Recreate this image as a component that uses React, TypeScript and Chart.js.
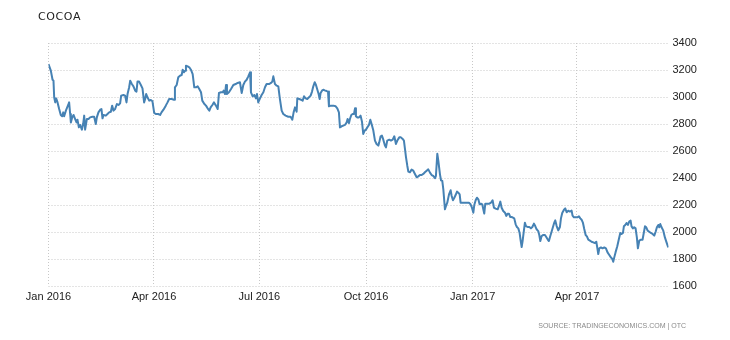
import { useEffect, useRef } from "react";
import { Chart, registerables } from "chart.js";

Chart.register(...registerables);

// Trading days, counted from 1 Jan 2016
const tradingDay = [
  0.0, 2.0, 3.5, 4.3, 4.9, 5.8, 6.6, 7.8, 9.2, 10.6, 11.8, 12.7, 13.5, 15.0, 17.0, 17.8, 18.7, 19.3, 20.4, 21.6,
  23.0, 24.2, 25.0, 26.2, 27.3, 28.8, 29.9, 30.8, 31.6, 33.1, 34.5, 35.9, 37.9, 39.4, 40.8, 41.7, 43.1, 44.6, 45.7, 46.6,
  47.5, 49.5, 50.9, 52.3, 53.8, 54.9, 56.1, 57.5, 59.0, 60.4, 61.8, 62.7, 64.7, 66.1, 67.3, 68.2, 69.6, 70.5, 71.9, 73.3,
  74.8, 75.9, 76.8, 78.2, 79.7, 81.1, 82.5, 83.4, 84.3, 85.4, 86.9, 88.3, 89.7, 91.2, 92.6, 94.6, 96.3, 97.5, 99.2, 101.2,
  102.7, 104.1, 106.3, 108.3, 109.1, 110.6, 112.0, 113.5, 114.9, 115.8, 116.9, 117.8, 118.6, 120.1, 121.5, 122.9, 124.4, 125.8, 127.3, 128.7,
  130.1, 131.6, 132.7, 134.5, 135.9, 137.3, 138.8, 139.9, 141.4, 142.8, 144.5, 146.0, 147.1, 148.8, 150.3, 151.1, 152.3, 153.2, 154.0, 155.7,
  157.5, 159.5, 161.5, 163.2, 165.2, 166.7, 168.1, 169.5, 171.0, 172.4, 173.9, 174.7, 176.2, 177.6, 179.0, 179.9, 181.0, 182.5, 183.9, 185.4,
  186.8, 188.2, 190.3, 192.0, 193.1, 194.0, 195.4, 196.9, 198.3, 199.7, 201.2, 202.6, 204.6, 206.9, 208.9, 210.4, 211.5, 212.7, 213.3, 214.1,
  214.7, 216.4, 217.9, 219.3, 220.5, 221.9, 223.3, 224.8, 226.2, 227.4, 228.5, 229.7, 230.8, 232.0, 233.1, 234.0, 234.8, 236.0, 237.1, 238.3,
  240.0, 241.2, 242.0, 243.7, 245.8, 247.8, 249.2, 250.6, 251.5, 252.9, 254.4, 255.8, 257.3, 258.1, 259.3, 260.1, 261.3, 262.4, 263.6, 264.5,
  265.3, 266.5, 267.9, 269.3, 270.5, 271.6, 272.8, 273.9, 275.1, 276.5, 277.7, 278.8, 280.3, 281.7, 283.1, 284.6, 285.4, 286.6, 287.7, 288.9,
  290.3, 291.2, 292.3, 294.1, 295.5, 297.0, 298.4, 299.8, 301.0, 302.7, 304.1, 305.6, 306.7, 307.6, 308.5, 309.6, 310.5, 311.9, 313.3, 314.8,
  316.2, 317.7, 319.1, 320.5, 322.0, 323.4, 324.8, 326.3, 327.7, 329.2, 330.6, 332.0, 333.5, 334.3, 335.5, 336.4, 337.8, 338.7, 339.8, 340.7,
  342.1, 343.0, 344.1, 345.6, 347.0, 347.9, 349.0, 350.2, 351.3, 352.5, 353.6, 354.8, 355.6, 357.1, 358.8, 360.8, 362.8, 364.2, 365.4, 366.6,
  367.4, 368.6, 369.7, 370.9, 372.0, 373.2, 374.3, 375.2, 376.0, 376.9, 378.6, 380.4, 381.8, 383.2, 384.4, 385.8, 387.6, 388.7, 389.9, 391.0,
  392.4, 393.9, 395.0, 396.2, 397.3, 398.5, 399.6, 400.8, 401.9, 403.1, 404.2, 405.4, 406.5, 407.4, 408.3, 409.1, 410.0, 411.1, 412.0, 413.4,
  414.9, 416.3, 417.5, 418.9, 420.0, 421.2, 422.6, 423.5, 424.4, 425.5, 427.0, 428.4, 429.5, 430.7, 431.8, 433.0, 434.1, 435.3, 436.4, 437.3,
  438.5, 439.9, 441.3, 442.2, 443.3, 444.8, 445.9, 447.1, 448.5, 449.9, 451.4, 452.2, 453.4, 454.8, 456.3, 457.7, 458.9, 460.0, 461.2, 462.3,
  463.5, 464.6, 465.8, 467.2, 468.6, 470.1, 471.5, 472.7, 473.5, 474.4, 475.3, 476.7, 478.1, 479.6, 481.0, 482.4, 483.9, 485.3, 486.5, 487.3,
  488.2, 489.3, 490.8, 492.2, 493.4, 494.5, 495.7, 496.5, 497.7, 498.8, 500.0, 501.1, 502.3, 503.1, 504.3, 505.4, 506.6, 507.7, 508.6, 509.8,
  511.2, 512.6, 513.5, 514.7, 515.8, 517.0, 518.4, 519.8, 521.3, 522.7, 523.9, 525.0, 526.2, 527.0, 527.9, 529.0, 530.5, 531.9, 533.3, 534.8,
];

// Cocoa price, USD per tonne
const cocoaPrice = [
  3244, 3195, 3128, 3121, 2998, 2960, 2990, 2960, 2911, 2867, 2857, 2886, 2857, 2899, 2941, 2960, 2874, 2812, 2849, 2867,
  2837, 2812, 2832, 2775, 2793, 2758, 2800, 2862, 2758, 2837, 2837, 2849, 2854, 2854, 2800, 2849, 2886, 2906, 2911, 2842,
  2867, 2862, 2874, 2886, 2891, 2936, 2899, 2911, 2948, 2941, 2953, 3010, 3015, 3010, 2960, 3022, 3072, 3121, 3096, 3079,
  3047, 3040, 3114, 3114, 3089, 3064, 2960, 2985, 3022, 2998, 2973, 2978, 2968, 2882, 2874, 2874, 2867, 2886, 2906, 2936,
  2960, 2985, 2985, 2980, 3072, 3089, 3146, 3158, 3163, 3202, 3183, 3195, 3232, 3227, 3220, 3202, 3170, 3072, 3072, 3079,
  3059, 3035, 2973, 2948, 2936, 2916, 2899, 2923, 2941, 2960, 2936, 2911, 3030, 3035, 3035, 3047, 3022, 3089, 3022, 3035,
  3059, 3089, 3096, 3104, 3109, 3030, 3089, 3114, 3128, 3153, 3183, 3035, 3005, 3015, 2990, 3022, 2960, 2990, 3015, 3035,
  3072, 3096, 3096, 3104, 3114, 3153, 3096, 3084, 3079, 2985, 2899, 2874, 2862, 2854, 2854, 2832, 2886, 2923, 2911, 2891,
  2990, 2985, 2980, 2973, 3005, 2990, 2985, 2998, 3010, 3040, 3079, 3109, 3089, 3054, 3022, 2985, 3030, 3047, 3054, 3049,
  3044, 3040, 2931, 2936, 2936, 2931, 2916, 2886, 2775, 2783, 2788, 2793, 2812, 2837, 2807, 2837, 2867, 2874, 2874, 2916,
  2857, 2849, 2849, 2862, 2817, 2726, 2751, 2758, 2775, 2793, 2832, 2800, 2751, 2677, 2652, 2640, 2664, 2709, 2714, 2684,
  2640, 2627, 2677, 2684, 2677, 2684, 2709, 2652, 2677, 2701, 2701, 2689, 2677, 2615, 2553, 2491, 2447, 2442, 2462, 2454,
  2430, 2405, 2412, 2422, 2422, 2430, 2442, 2454, 2464, 2440, 2422, 2415, 2398, 2415, 2580, 2526, 2427, 2383, 2378, 2316,
  2168, 2193, 2217, 2279, 2309, 2267, 2235, 2254, 2274, 2299, 2291, 2279, 2217, 2217, 2217, 2217, 2217, 2205, 2180, 2143,
  2200, 2235, 2254, 2242, 2205, 2210, 2205, 2168, 2136, 2210, 2210, 2210, 2217, 2235, 2180, 2173, 2168, 2193, 2225, 2180,
  2156, 2143, 2119, 2136, 2136, 2111, 2111, 2106, 2101, 2057, 2037, 2027, 1995, 1938, 1889, 1933, 1995, 2069, 2044, 2037,
  2037, 2027, 2037, 2062, 2044, 2020, 2007, 1978, 1933, 1970, 1978, 1978, 1963, 1946, 1933, 1970, 2002, 2037, 2069, 2086,
  2044, 2012, 2037, 2101, 2141, 2165, 2175, 2146, 2158, 2151, 2158, 2121, 2109, 2109, 2109, 2116, 2101, 2091, 2067, 2022,
  1978, 1968, 1943, 1936, 1928, 1923, 1918, 1928, 1886, 1837, 1879, 1886, 1879, 1886, 1879, 1849, 1830, 1812, 1800, 1780,
  1812, 1849, 1894, 1948, 1993, 1985, 1993, 2042, 2052, 2067, 2052, 2077, 2084, 2042, 2027, 2035, 2027, 1960, 1879, 1936,
  1943, 1943, 1985, 2042, 2035, 2010, 2002, 1993, 1985, 1973, 2002, 2035, 2052, 2035, 2059, 2035, 2010, 1960, 1923, 1886,
];

// Quarter starts (days from 1 Jan 2016) and their labels
const quarterTickDays = [0, 91, 182, 274, 366, 456];
const quarterTickLabels = ["Jan 2016", "Apr 2016", "Jul 2016", "Oct 2016", "Jan 2017", "Apr 2017"];

const priceMin = 1600;
const priceMax = 3400;
const priceStep = 200;
const lastDay = 535;

const LINE_COLOR = "#4682b4";
const GRID_COLOR = "#c8c8c8";
const TICK_FONT = { family: "'Liberation Sans', Arial, sans-serif", size: 11 };

export default function App() {
  const canvasRef = useRef<HTMLCanvasElement | null>(null);

  useEffect(() => {
    const canvas = canvasRef.current;
    if (!canvas) return;

    const points = tradingDay.map((d, i) => ({ x: d, y: cocoaPrice[i] }));

    const chart = new Chart(canvas, {
      type: "line",
      data: {
        datasets: [
          {
            label: "Cocoa",
            data: points,
            borderColor: LINE_COLOR,
            borderWidth: 2,
            pointRadius: 0,
            fill: false,
            tension: 0,
            borderJoinStyle: "round",
          },
        ],
      },
      options: {
        animation: false,
        responsive: false,
        maintainAspectRatio: false,
        layout: { padding: { left: 48.5, top: 43, right: 0, bottom: 0 } },
        plugins: {
          legend: { display: false },
          tooltip: { enabled: false },
          title: { display: false },
        },
        scales: {
          x: {
            type: "linear",
            min: 0,
            max: lastDay,
            afterBuildTicks: (scale: any) => {
              scale.ticks = quarterTickDays.map((v) => ({ value: v }));
            },
            afterFit: (scale: any) => {
              scale.height = 54;
            },
            ticks: {
              autoSkip: false,
              maxRotation: 0,
              minRotation: 0,
              padding: 4,
              color: "#222",
              font: TICK_FONT,
              callback: (value: any) => {
                const i = quarterTickDays.indexOf(Number(value));
                return i >= 0 ? quarterTickLabels[i] : "";
              },
            },
            grid: { color: GRID_COLOR, lineWidth: 1, drawTicks: false },
            border: { display: false, dash: [1, 2] },
          },
          y: {
            position: "right",
            min: priceMin,
            max: priceMax,
            afterFit: (scale: any) => {
              scale.width = 61.5;
            },
            ticks: {
              stepSize: priceStep,
              padding: 4,
              color: "#222",
              font: TICK_FONT,
              callback: (value: any) => String(value),
            },
            grid: { color: GRID_COLOR, lineWidth: 1, drawTicks: false },
            border: { display: false, dash: [1, 2] },
          },
        },
      },
    });

    return () => chart.destroy();
  }, []);

  return (
    <div style={{ position: "absolute", left: 0, top: 0, width: 730, height: 340, background: "#fff" }}>
      <canvas ref={canvasRef} width={730} height={340} style={{ display: "block" }} />
      <div
        style={{
          position: "absolute",
          left: 38,
          top: 10,
          font: "11px 'DejaVu Sans', Verdana, sans-serif",
          letterSpacing: "0.6px",
          color: "#222",
          lineHeight: "14px",
        }}
      >
        COCOA
      </div>
      <div
        style={{
          position: "absolute",
          right: 44,
          top: 321,
          font: "8px 'Liberation Sans', Arial, sans-serif",
          color: "#8a8a8a",
          lineHeight: "10px",
          whiteSpace: "nowrap",
          transform: "scaleX(0.88)",
          transformOrigin: "right center",
        }}
      >
        SOURCE: TRADINGECONOMICS.COM | OTC
      </div>
    </div>
  );
}
